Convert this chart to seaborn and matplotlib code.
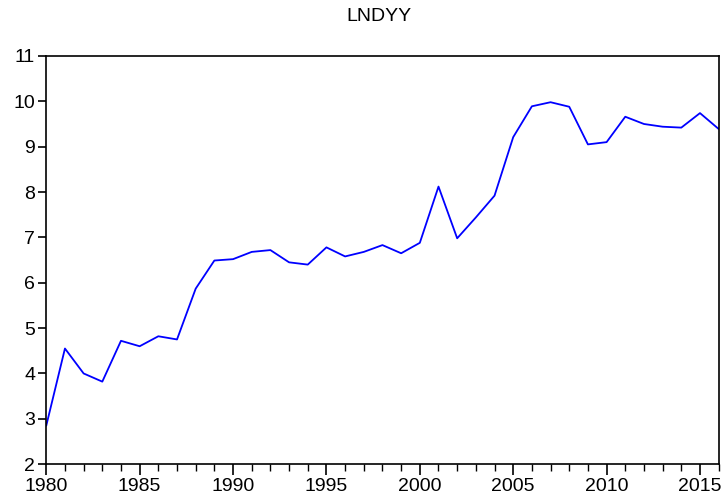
import numpy as np
import pandas as pd
import seaborn as sns
import matplotlib
matplotlib.use("Agg")
import matplotlib.pyplot as plt
from matplotlib.ticker import MultipleLocator

# LNDYY series
years = list(range(1980, 2017))
lndyy = [2.85, 4.55, 4.00, 3.82, 4.72, 4.60, 4.82, 4.75, 5.87, 6.49,
         6.52, 6.68, 6.72, 6.45, 6.40, 6.78, 6.58, 6.68, 6.83, 6.65,
         6.88, 8.12, 6.98, 7.44, 7.92, 9.21, 9.89, 9.98, 9.88, 9.05,
         9.10, 9.66, 9.50, 9.44, 9.42, 9.74, 9.39]
title = "LNDYY"

df = pd.DataFrame({"year": years, "value": lndyy})

sns.set_theme(style="white")
plt.rcParams["font.family"] = ["Liberation Sans", "DejaVu Sans"]
plt.rcParams["text.color"] = "black"
plt.rcParams["xtick.color"] = "black"
plt.rcParams["ytick.color"] = "black"

fig = plt.figure(figsize=(7.23, 5.04), dpi=100)
ax = fig.add_axes([0.064, 0.079, 0.930, 0.810])

sns.lineplot(data=df, x="year", y="value", color="#0000ff", linewidth=1.3, ax=ax)

ax.set_xlim(1980, 2016)
ax.set_ylim(2, 11)
ax.xaxis.set_major_locator(MultipleLocator(5))
ax.xaxis.set_minor_locator(MultipleLocator(1))
ax.yaxis.set_major_locator(MultipleLocator(1))
ax.tick_params(axis="x", which="major", direction="out", length=8, width=1.2,
               bottom=True, labelsize=14, pad=2)
ax.tick_params(axis="x", which="minor", direction="out", length=5, width=1.0,
               bottom=True)
ax.tick_params(axis="y", which="major", direction="out", length=6, width=1.2,
               left=True, labelsize=14, pad=2)
for s in ax.spines.values():
    s.set_color("black")
    s.set_linewidth(1.2)
ax.set_xlabel("")
ax.set_ylabel("")
fig.suptitle(title, x=0.524, y=0.985, fontsize=14)

fig.savefig("out.png", dpi=100)
